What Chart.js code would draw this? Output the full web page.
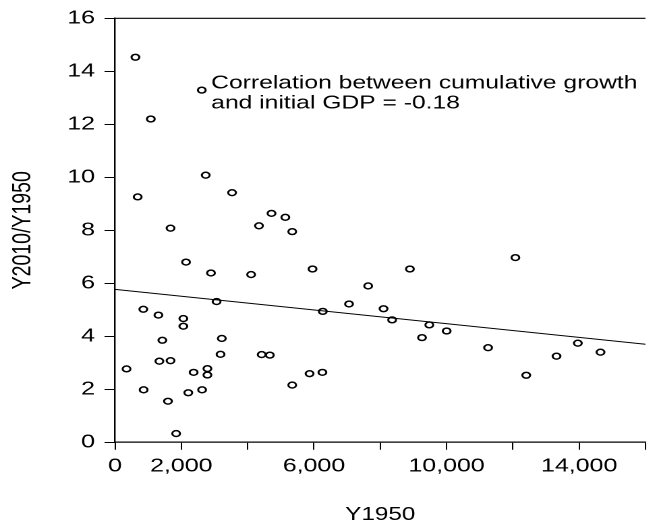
<!DOCTYPE html>
<html>
<head>
<meta charset="utf-8">
<script src="https://cdn.jsdelivr.net/npm/chart.js@4"></script>
<style>
  html, body { margin: 0; padding: 0; background: #fff; overflow: hidden; }
  /* the reference is stretched sideways, so draw narrow and widen it */
  #wrap { width: 484px; height: 522px; transform: scaleX(1.349); transform-origin: 0 0; }
</style>
</head>
<body>
<div id="wrap"><canvas id="scatter"></canvas></div>
<script>
// Y1950 (initial GDP) and Y2010/Y1950 (cumulative growth)
const gdp1950 = [
  616, 2617, 1080, 2736, 684, 3531, 4720, 5137, 1675, 4343,
  5345, 2142, 2894, 4105, 5958, 3064, 854, 1309, 2061, 2061,
  6267, 1428, 3221, 348, 1338, 1675, 3183, 4423, 4670, 2787,
  2787, 2371, 5868, 6255, 863, 2210, 2626, 5345, 1597, 1844,
  7058, 7635, 8894, 8099, 8358, 9479, 9259, 10003, 11252, 12076,
  12403, 13316, 13959, 14643
];
const growth = [
  14.53, 13.29, 12.20, 10.08, 9.26, 9.42, 8.64, 8.49, 8.08, 8.17,
  7.95, 6.80, 6.39, 6.33, 6.54, 5.31, 5.02, 4.80, 4.67, 4.38,
  4.94, 3.85, 3.92, 2.77, 3.06, 3.08, 3.32, 3.31, 3.29, 2.78,
  2.54, 2.64, 2.59, 2.64, 1.98, 1.87, 1.98, 2.16, 1.55, 0.33,
  5.22, 5.90, 6.54, 5.04, 4.62, 4.43, 3.95, 4.20, 3.57, 6.97,
  2.53, 3.25, 3.74, 3.40
];

// fitted line ends
const fitX = [0, 16000];
const fitY = [5.77, 3.70];

// only some x ticks carry a label
const xLabelled = [0, 2000, 6000, 10000, 14000];

const noteLines = ["Correlation between cumulative growth", "and initial GDP = -0.18"];
const noteAt = { x: 2900, y: 13.35 };

const FONT = "'Liberation Sans', Arial, sans-serif";

// top frame line
const topLine = {
  id: "topLine",
  afterDraw(chart) {
    const { ctx, chartArea } = chart;
    ctx.save();
    ctx.strokeStyle = "#000";
    ctx.lineWidth = 1.2;
    ctx.beginPath();
    ctx.moveTo(chartArea.left, chartArea.top);
    ctx.lineTo(chartArea.right, chartArea.top);
    ctx.stroke();
    ctx.restore();
  }
};

// correlation note next to the marker
const note = {
  id: "note",
  afterDraw(chart) {
    const { ctx, scales } = chart;
    const x = scales.x.getPixelForValue(noteAt.x);
    const y = scales.y.getPixelForValue(noteAt.y);
    ctx.save();
    ctx.fillStyle = "#000";
    ctx.font = "18.3px " + FONT;
    ctx.textBaseline = "alphabetic";
    noteLines.forEach((line, i) => ctx.fillText(line, x, y + i * 20));
    ctx.restore();
  }
};

const points = gdp1950.map((v, i) => ({ x: v, y: growth[i] }));
const fit = fitX.map((v, i) => ({ x: v, y: fitY[i] }));

new Chart(document.getElementById("scatter"), {
  type: "scatter",
  data: {
    datasets: [
      {
        data: points,
        pointStyle: "circle",
        pointRadius: 2.9,
        pointBorderWidth: 1.5,
        pointBorderColor: "#000",
        pointBackgroundColor: "rgba(0,0,0,0)"
      },
      {
        type: "line",
        data: fit,
        borderColor: "#000",
        borderWidth: 1,
        pointRadius: 0,
        fill: false
      }
    ]
  },
  options: {
    responsive: true,
    maintainAspectRatio: false,
    devicePixelRatio: 2,
    animation: false,
    layout: { padding: { top: 18.3, left: 0, right: 0, bottom: 0 } },
    plugins: { legend: { display: false }, tooltip: { enabled: false } },
    scales: {
      x: {
        type: "linear",
        min: 0,
        max: 16000,
        afterFit: s => { s.height = 79.7; },
        border: { display: true, color: "#000", width: 1.2 },
        grid: { display: true, drawOnChartArea: false, color: "#000", tickLength: 7.5, lineWidth: 1 },
        ticks: {
          stepSize: 2000,
          autoSkip: false,
          maxRotation: 0,
          minRotation: 0,
          padding: 5.3,
          color: "#000",
          font: { family: FONT, size: 18.5 },
          callback: v => (xLabelled.includes(v) ? v.toLocaleString("en-US") : "")
        },
        title: {
          display: true,
          text: "Y1950",
          color: "#000",
          font: { family: FONT, size: 18, lineHeight: 0.8 },
          padding: 0
        }
      },
      y: {
        min: 0,
        max: 16,
        afterFit: s => { s.width = 85.25; },
        border: { display: true, color: "#000", width: 1.2 },
        grid: { display: true, drawOnChartArea: false, color: "#000", tickLength: 7.8, lineWidth: 1 },
        ticks: {
          stepSize: 2,
          padding: 7,
          color: "#000",
          font: { family: FONT, size: 18.5 }
        },
        title: {
          display: true,
          text: "Y2010/Y1950",
          color: "#000",
          font: { family: FONT, size: 19.5 },
          padding: { top: 5.2, bottom: 0 }
        }
      }
    }
  },
  plugins: [topLine, note]
});
</script>
</body>
</html>
